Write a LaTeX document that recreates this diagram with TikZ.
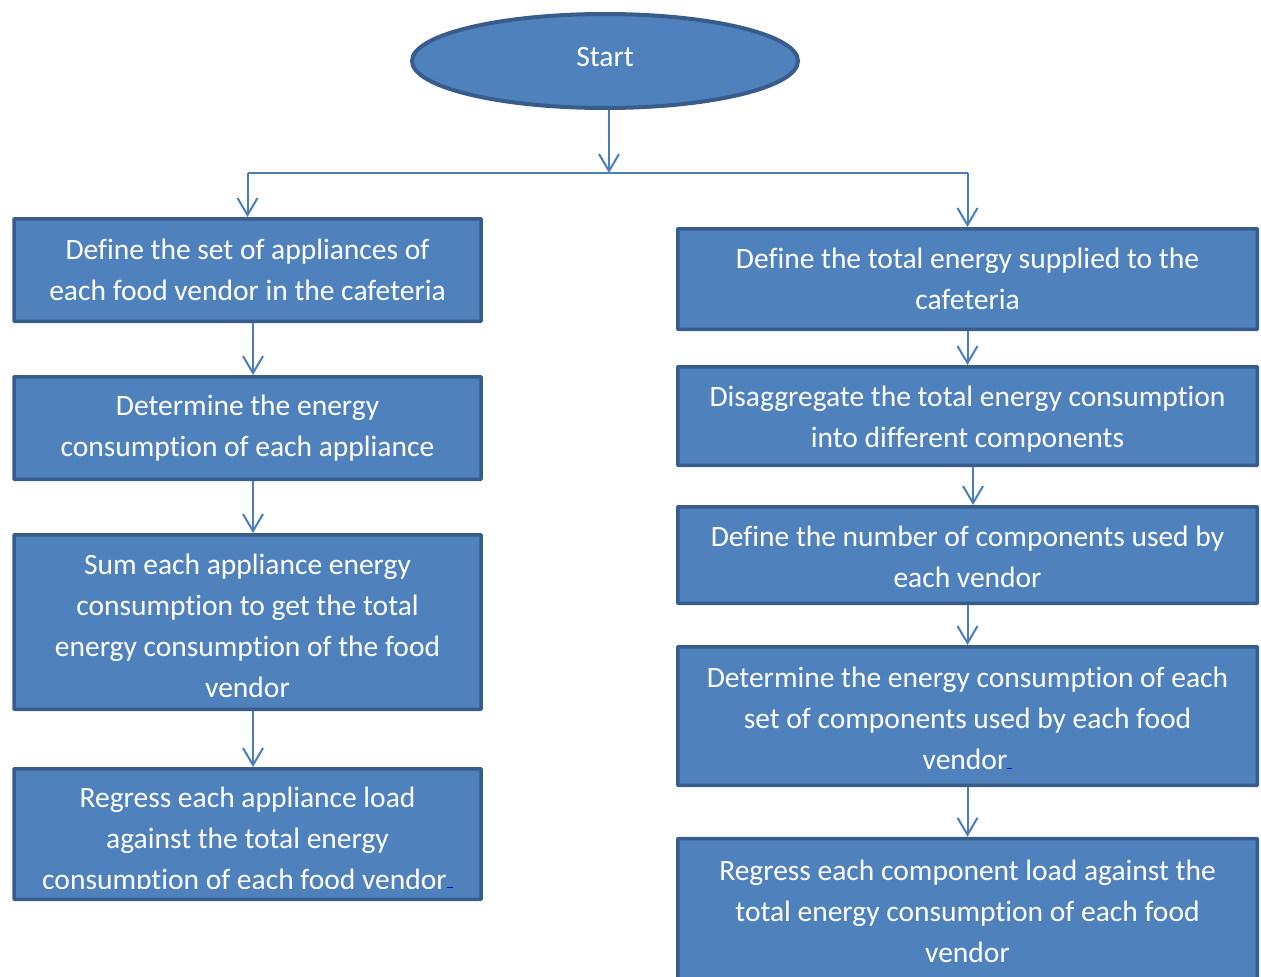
\documentclass[tikz,border=0pt]{standalone}
\usepackage{fontspec}
\setmainfont[Ligatures=NoCommon]{Carlito}
\usetikzlibrary{arrows.meta,shapes.geometric}
\definecolor{fillb}{HTML}{4F81BD}
\definecolor{edgeb}{HTML}{385D8A}
\definecolor{lineb}{HTML}{4A7EBB}
\begin{document}
\begin{tikzpicture}[x=1pt,y=-1pt,
  stepbox/.style={draw=edgeb, line width=3.5pt, fill=fillb, text=white, align=center,
    font=\fontsize{29.5}{41}\selectfont, inner sep=0pt, rounded corners=0.6pt},
  boxtext/.style={text=white, align=center, font=\fontsize{29.5}{41}\selectfont, inner sep=0pt},
  conn/.style={draw=lineb, line width=2pt, -{Straight Barb[length=17pt,width=20pt,line width=2pt]}},
  plain/.style={draw=lineb, line width=2pt}]
\useasboundingbox (0,0) rectangle (1261,977);
\clip (0,0) rectangle (1261,977);
% start
\node[ellipse, draw=edgeb, line width=4pt, fill=fillb, inner sep=0pt,
  minimum width=386pt, minimum height=94pt] (start) at (605,61) {};
\node[boxtext] (startt) at (605,57) {Start};
% left column
\node[stepbox, minimum width=467pt, minimum height=102.5pt] (L1) at (247.5,270)
  {Define the set of appliances of\\each food vendor in the cafeteria};
\node[stepbox, minimum width=467pt, minimum height=102.5pt] (L2) at (247.5,428)
  {Determine the energy\\consumption of each appliance};
\node[stepbox, minimum width=467pt, minimum height=174.5pt] (L3) at (247.5,622) {};
\node[boxtext] (L3t) at (247.5,626)
  {Sum each appliance energy\\consumption to get the total\\energy consumption of the food\\vendor};
\node[stepbox, minimum width=467pt, minimum height=130.5pt] (L4) at (247.5,834) {};
\begin{scope}
  \clip (16,771) rectangle (480,888);
  \node[boxtext] (L4t) at (247.5,841)
    {Regress each appliance load\\against the total energy\\consumption of each food vendor\textcolor{blue}{\rule[1.5pt]{6pt}{1.5pt}}};
\end{scope}
% right column
\node[stepbox, minimum width=579.5pt, minimum height=100.5pt] (R1) at (967.5,279)
  {Define the total energy supplied to the\\cafeteria};
\node[stepbox, minimum width=579.5pt, minimum height=98.5pt] (R2) at (967.5,416) {};
\node[boxtext] (R2t) at (967.5,419)
  {Disaggregate the total energy consumption\\into different components};
\node[stepbox, minimum width=579.5pt, minimum height=96.5pt] (R3) at (967.5,555) {};
\node[boxtext] (R3t) at (967.5,557)
  {Define the number of components used by\\each vendor};
\node[stepbox, minimum width=579.5pt, minimum height=138.5pt] (R4) at (967.5,716) {};
\node[boxtext] (R4t) at (967.5,718)
  {Determine the energy consumption of each\\set of components used by each food\\vendor\textcolor{blue}{\rule[0pt]{5pt}{1.5pt}}};
\node[stepbox, minimum width=579.5pt, minimum height=200pt] (R5) at (967.5,938.5) {};
\node[boxtext] (R5t) at (967.5,911)
  {Regress each component load against the\\total energy consumption of each food\\vendor};
% connectors
\coordinate (j) at (609,173);
\draw[conn] ([xshift=4pt]start.south) -- (j);
\draw[plain] (L1 |- j) -- (R1 |- j);
\draw[conn] (L1 |- j) -- (L1.north);
\draw[conn] (R1 |- j) -- (R1.north);
\draw[conn] ([xshift=5.5pt]L1.south) -- ([xshift=5.5pt]L2.north);
\draw[conn] ([xshift=5.5pt]L2.south) -- ([xshift=5.5pt]L3.north);
\draw[conn] ([xshift=5.5pt]L3.south) -- ([xshift=5.5pt]L4.north);
\draw[conn] (R1.south) -- (R2.north);
\draw[conn] ([xshift=5.5pt]R2.south) -- ([xshift=5.5pt]R3.north);
\draw[conn] (R3.south) -- (R4.north);
\draw[conn] (R4.south) -- (R5.north);
\end{tikzpicture}
\end{document}
